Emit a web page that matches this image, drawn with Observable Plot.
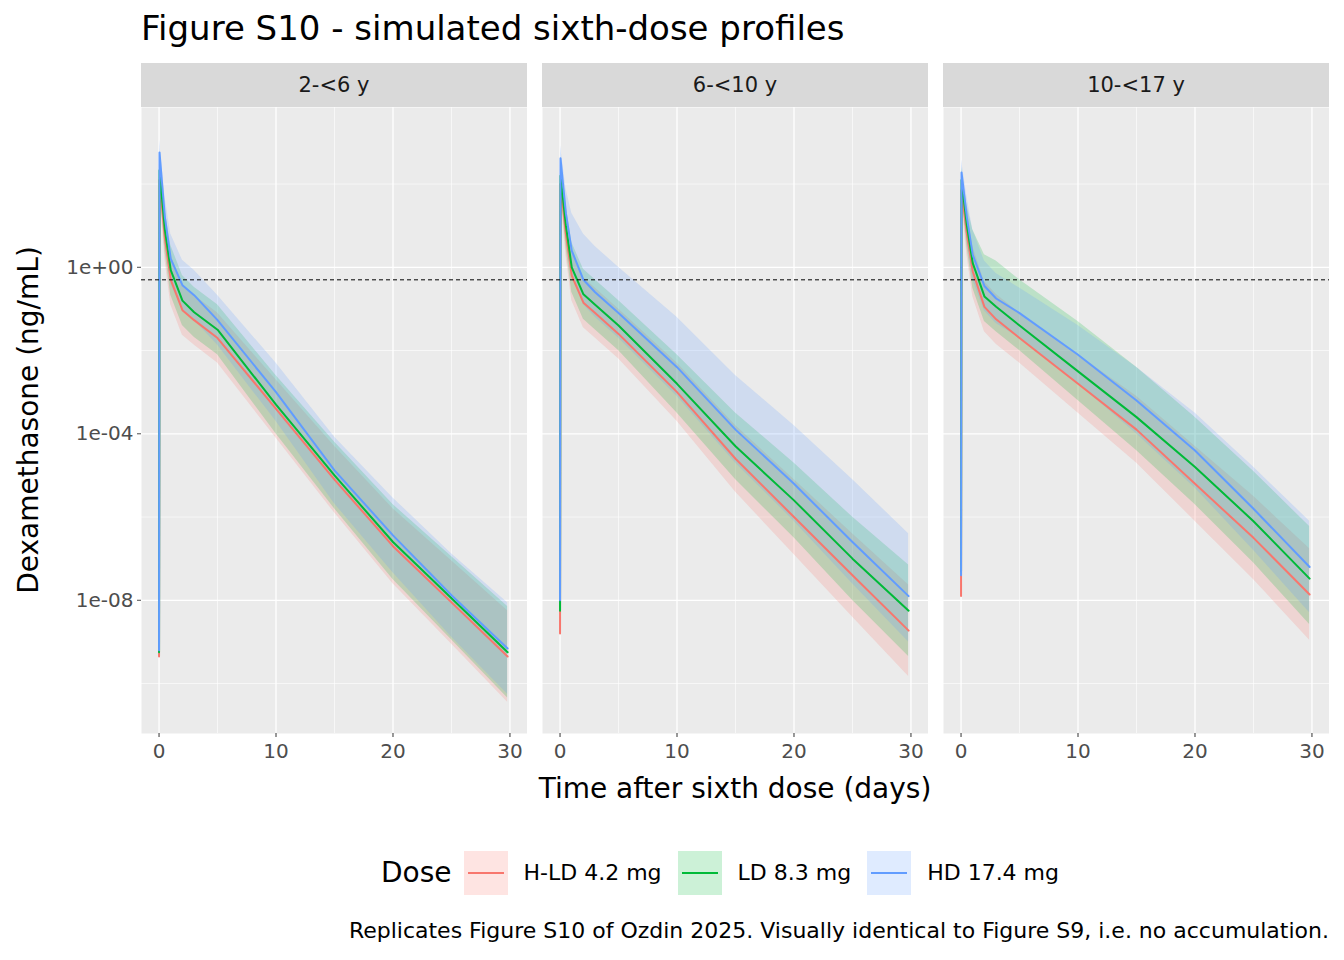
<!DOCTYPE html>
<html><head><meta charset="utf-8">
<script src="https://cdn.jsdelivr.net/npm/d3@7"></script>
<script src="https://cdn.jsdelivr.net/npm/@observablehq/plot@0.6"></script>
<style>
body{margin:0;width:1344px;height:960px;background:#fff;font-family:"DejaVu Sans",sans-serif;position:relative;overflow:hidden}
.abs{position:absolute}
.strip{background:#D9D9D9;height:44px;line-height:44px;text-align:center;font-size:21px;color:#1A1A1A}
</style></head><body>
<script>
const facets = ["2-<6 y","6-<10 y","10-<17 y"];
const groups = ["H-LD 4.2 mg","LD 8.3 mg","HD 17.4 mg"];
const colors = ["#F8766D","#00BA38","#619CFF"];
const times = [0,0.04,0.5,1,2,3,5,10,15,20,25,29.8];
// log10 median concentration, per facet, per group (H-LD, LD, HD)
const med_f1_hld = [-9.35,2.1,0.7,-0.3,-1.03,-1.27,-1.7,-3.4,-5.1,-6.7,-8.05,-9.35];
const med_f1_ld  = [-9.25,2.33,0.9,-0.07,-0.8,-1.08,-1.5,-3.3,-5.0,-6.6,-7.95,-9.25];
const med_f1_hd  = [-9.2,2.76,1.2,0.2,-0.43,-0.67,-1.27,-3.0,-4.88,-6.44,-7.88,-9.16];
const med_f2_hld = [-8.8,2.0,0.8,-0.2,-0.85,-1.1,-1.6,-3.0,-4.6,-6.0,-7.4,-8.73];
const med_f2_ld  = [-8.25,2.2,1.0,0.0,-0.65,-0.9,-1.4,-2.8,-4.3,-5.6,-7.0,-8.25];
const med_f2_hd  = [-8.0,2.62,1.3,0.4,-0.3,-0.6,-1.1,-2.4,-3.9,-5.2,-6.6,-7.9];
const med_f3_hld = [-7.9,1.85,0.8,-0.1,-0.95,-1.25,-1.7,-2.8,-3.9,-5.2,-6.5,-7.86];
const med_f3_ld  = [-7.3,2.1,1.0,0.1,-0.7,-0.95,-1.4,-2.5,-3.6,-4.8,-6.1,-7.48];
const med_f3_hd  = [-7.4,2.28,1.2,0.3,-0.45,-0.75,-1.1,-2.1,-3.2,-4.4,-5.8,-7.2];
// band half-widths (log10) from t=0.04 onward
const band_std   = [0.3,0.5,0.6,0.6,0.6,0.6,0.7,0.8,0.9,1.0,1.1];
const band_f2_hd_hi = [0.3,0.6,0.9,1.1,1.1,1.1,1.2,1.3,1.4,1.5,1.5];
const band_f3_ld_hi = [0.3,0.5,0.8,1.0,1.1,1.1,1.2,1.2,1.2,1.2,1.25];
const meds = [[med_f1_hld,med_f1_ld,med_f1_hd],[med_f2_hld,med_f2_ld,med_f2_hd],[med_f3_hld,med_f3_ld,med_f3_hd]];
const bandHi = [[band_std,band_std,band_std],[band_std,band_std,band_f2_hd_hi],[band_std,band_f3_ld_hi,band_std]];
const threshold = 0.5;
const yMajor = [1,1e-4,1e-8], yMinor=[1e2,1e-2,1e-6,1e-10];
const xMajor = [0,10,20,30], xMinor=[5,15,25];
const fmt = d => d===1?"1e+00":d===1e-4?"1e-04":"1e-08";

function el(html, css){const d=document.createElement("div");d.className="abs";d.innerHTML=html;Object.assign(d.style,css);document.body.appendChild(d);return d;}
el("Figure S10 - simulated sixth-dose profiles",{left:"141px",top:"8px",fontSize:"34px",color:"#000",whiteSpace:"nowrap"});
const lefts=[141,542,943];
facets.forEach((f,i)=>{
  const s=el(f,{left:lefts[i]+"px",top:"63px",width:"386px"}); s.classList.add("strip");
  const lines=[], bands=[];
  groups.forEach((g,j)=>{
    times.forEach((t,k)=>{
      const m=meds[i][j][k];
      lines.push({t,g,y:10**m});
      if(k>0) bands.push({t,g,lo:10**(m-band_std[k-1]),hi:10**(m+bandHi[i][j][k-1])});
    });
  });
  const first=i===0;
  const p=Plot.plot({
    width:first?527:386, height:666, marginLeft:first?141:0, marginRight:0, marginTop:0, marginBottom:40,
    style:{fontFamily:"DejaVu Sans",fontSize:"20px",color:"#4D4D4D",background:"transparent"},
    x:{domain:[-1.5,31.5]},
    y:{type:"log",domain:[6.3e-12,6900],axis:first?undefined:null},
    color:{domain:groups,range:colors},
    marks:[
      Plot.frame({fill:"#EBEBEB",stroke:null}),
      Plot.ruleY(yMinor,{stroke:"#fff",strokeWidth:0.6}),
      Plot.ruleX(xMinor,{stroke:"#fff",strokeWidth:0.6}),
      Plot.ruleY(yMajor,{stroke:"#fff",strokeWidth:1.3}),
      Plot.ruleX(xMajor,{stroke:"#fff",strokeWidth:1.3}),
      Plot.areaY(bands,{x:"t",y1:"lo",y2:"hi",z:"g",fill:"g",fillOpacity:0.2}),
      Plot.line(lines,{x:"t",y:"y",z:"g",stroke:"g",strokeWidth:2}),
      Plot.ruleY([threshold],{stroke:"#000",strokeDasharray:"4,3",strokeWidth:1}),
      Plot.axisX({ticks:xMajor,tickSize:4,tickPadding:6,label:null,stroke:"#333",fill:"#4D4D4D"}),
      first?Plot.axisY({ticks:yMajor,tickFormat:fmt,tickSize:4,tickPadding:4,label:null,fill:"#4D4D4D"}):null
    ].filter(Boolean)
  });
  const w=el("",{left:(first?0:lefts[i])+"px",top:"107px"}); w.appendChild(p);
});
el("Dexamethasone (ng/mL)",{left:"28px",top:"420px",fontSize:"28px",transform:"translate(-50%,-50%) rotate(-90deg)",whiteSpace:"nowrap"});
el("Time after sixth dose (days)",{left:"735px",top:"788px",fontSize:"28px",transform:"translate(-50%,-50%)",whiteSpace:"nowrap"});
// legend
let lg='<span style="font-size:28px;margin-right:12px;vertical-align:middle">Dose</span>';
groups.forEach((g,j)=>{
  lg+=`<span style="display:inline-block;width:44px;height:44px;background:${colors[j]}33;position:relative;vertical-align:middle;margin:0 16px 0 0"><span style="position:absolute;left:4px;right:4px;top:21px;height:2px;background:${colors[j]}"></span></span><span style="font-size:22px;margin-right:16px;vertical-align:middle">${g}</span>`;
});
el(lg,{left:"381px",top:"850px",whiteSpace:"nowrap",lineHeight:"44px"});
el("Replicates Figure S10 of Ozdin 2025. Visually identical to Figure S9, i.e. no accumulation.",{right:"15px",top:"918px",fontSize:"22px",whiteSpace:"nowrap"});
</script>
</body></html>
